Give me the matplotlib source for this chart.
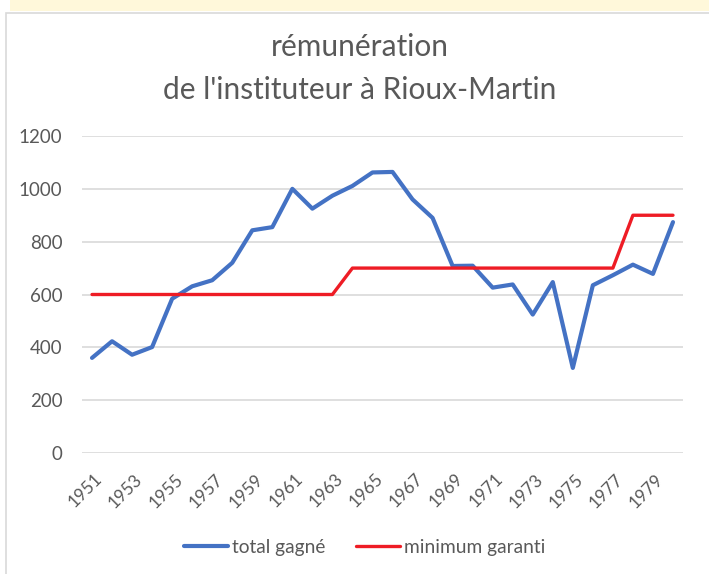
import numpy as np
import matplotlib.pyplot as plt
import matplotlib.transforms as mtransforms
from matplotlib.patches import Rectangle

plt.rcParams['font.family'] = ['Lato', 'DejaVu Sans']

# data
years = list(range(1951, 1981))
total_gagne = [360, 423, 372, 401, 584, 631, 654, 720, 843, 855,
               1000, 925, 974, 1011, 1062, 1064, 960, 890, 708, 709,
               626, 638, 524, 647, 322, 635, 673, 713, 678, 874]
minimum_garanti = [600] * 13 + [700] * 14 + [900] * 3
ytick_vals = [0, 200, 400, 600, 800, 1000, 1200]

grey = '#595959'
W, H = 709, 574
fig = plt.figure(figsize=(W / 100, H / 100), dpi=100)

# yellow strip at the top and the chart frame
fig.patches.append(Rectangle((10 / W, 1 - 11 / H), 1, 11 / H, transform=fig.transFigure,
                             facecolor='#FFF8DA', edgecolor='none', zorder=-2))
fig.patches.append(Rectangle((6 / W, -0.01), 1, 1 - 13 / H + 0.01, transform=fig.transFigure,
                             facecolor='none', edgecolor='#D9D9D9', lw=1.2, zorder=-2))

ax = fig.add_axes([82 / W, 1 - 453 / H, (683 - 82) / W, (453 - 136) / H])
x = np.arange(len(years))
ax.plot(x, total_gagne, color='#4472C4', lw=3.0, label='total gagné',
        solid_capstyle='round', solid_joinstyle='round')
ax.plot(x, minimum_garanti, color='#EE1C25', lw=2.4, label='minimum garanti',
        solid_capstyle='round', solid_joinstyle='round')

ax.set_xlim(-0.5, len(years) - 0.5)
ax.set_ylim(0, 1200)
ax.set_yticks(ytick_vals)
ax.set_xticks(x[::2])
ax.set_xticklabels([str(y) for y in years[::2]], rotation=45, ha='right',
                   va='center', rotation_mode='anchor')
ax.tick_params(axis='both', length=0, colors=grey)
ax.tick_params(axis='y', pad=14, labelsize=13.5)
ax.tick_params(axis='x', pad=9, labelsize=12.5)
shift = mtransforms.ScaledTranslation(8 / 100, -11 / 100, fig.dpi_scale_trans)
for lab in ax.get_xticklabels():
    lab.set_transform(lab.get_transform() + shift)
ax.grid(axis='y', color='#D9D9D9', lw=1.2)
ax.set_axisbelow(True)
for s in ax.spines.values():
    s.set_visible(False)
ax.patch.set_alpha(0)

fig.text(360 / W, 1 - 68.5 / H, "rémunération\nde l'instituteur à Rioux-Martin",
         ha='center', va='center', fontsize=21.5, color=grey, linespacing=1.67)

fig.legend(loc='center', bbox_to_anchor=(365 / W, 1 - 547 / H), ncol=2, frameon=False,
           fontsize=13.8, labelcolor=grey, handlelength=2.3, handletextpad=0.2,
           columnspacing=1.6)

fig.savefig('out.png', dpi=100)
